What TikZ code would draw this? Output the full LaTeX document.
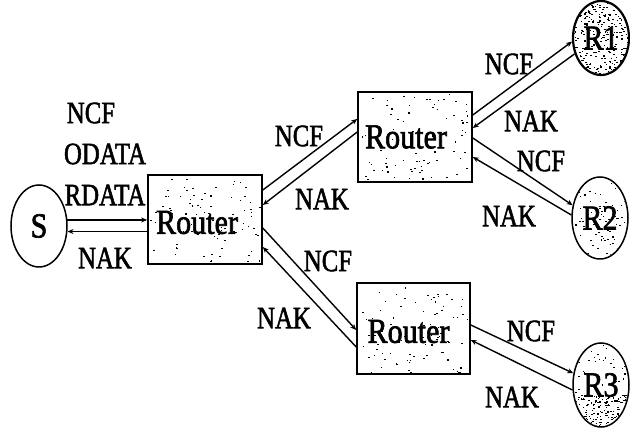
\documentclass[tikz,border=0pt]{standalone}
\usepackage{fontspec}
\usepackage{graphicx}
\setmainfont{Liberation Serif}[FakeBold=2]
\usetikzlibrary{shapes.geometric,arrows.meta}
% narrow type, as in the original drawing
\newcommand\cnd[1]{\scalebox{0.8}[1]{#1}}
\newcommand\cndr[1]{\scalebox{0.86}[1]{#1}}
% random stipple inside a box: x0 y0 x1 y1 count
\newcommand\speckle[5]{%
  \foreach \k in {1,...,#5}{%
    \pgfmathsetmacro\px{#1+rnd*(#3-#1)}%
    \pgfmathsetmacro\py{#2+rnd*(#4-#2)}%
    \fill (\px,\py) rectangle ++(1.6,1.1);
  }}
\begin{document}
\begin{tikzpicture}[x=1pt,y=-1pt,
  lbl/.style={inner sep=0pt, font=\fontsize{31}{31}\selectfont},
  router/.style={draw, line width=1.6pt, minimum width=114pt, minimum height=90pt, inner sep=0pt},
  rtext/.style={inner sep=0pt, font=\fontsize{35}{35}\selectfont},
  host/.style={ellipse, draw, line width=1.5pt, minimum width=56pt, minimum height=82pt, inner sep=0pt, font=\fontsize{35}{35}\selectfont},
  arr/.style={line width=1.4pt, -{Stealth[length=6pt,width=5pt]}}]
\useasboundingbox (0,0) rectangle (630,430);
\pgfmathsetseed{4217}

% stipple of the routers and receivers
\speckle{150}{177}{260}{262}{85}
\speckle{360}{94}{470}{180}{85}
\speckle{359}{285}{468}{372}{85}
\begin{scope}
  \clip (601,38) ellipse [x radius=27, y radius=36];
  \speckle{573}{2}{629}{75}{300}
\end{scope}
\begin{scope}
  \clip (600,218) ellipse [x radius=27, y radius=40];
  \speckle{572}{178}{628}{259}{80}
\end{scope}
\begin{scope}
  \clip (601,385) ellipse [x radius=27, y radius=41];
  \speckle{573}{344}{629}{427}{60}
  \speckle{573}{395}{629}{427}{150}
\end{scope}

% hosts
\node[host] (s) at (39,226) {\cndr{S}};
\node[host, line width=2.2pt, minimum height=74pt] (r1) at (601,38) {\cndr{R1}};
\node[host] (r2) at (600,218) {\cndr{R2}};
\node[host, minimum height=84pt] (r3) at (601,385) {\cndr{R3}};

% routers
\node[router, minimum width=114pt, minimum height=89pt,
  label={[rtext, xshift=-8pt, yshift=-3pt]center:\cndr{Router}}] (ra) at (205,219.5) {};
\node[router, minimum width=114pt, minimum height=90pt,
  label={[rtext, xshift=-9pt]center:\cndr{Router}}] (rb) at (415,137) {};
\node[router, minimum width=113pt, minimum height=91pt,
  label={[rtext, xshift=-5pt, yshift=-3pt]center:\cndr{Router}}] (rc) at (413.5,328.5) {};

% source <-> first router
\draw[arr] (s.12) -- (s.12 -| ra.west);
\draw[arr] (s.-11 -| ra.west) -- (s.-11);

% first router <-> upper router
\draw[arr] ([yshift=29.5pt]ra.east) -- ([yshift=18pt]rb.west);
\draw[arr] ([yshift=5pt]rb.west) -- ([yshift=14.5pt]ra.east);

% first router <-> lower router
\draw[arr] ([yshift=-8.5pt]ra.east) -- ([yshift=-1.5pt]rc.west);
\draw[arr] ([yshift=-18.5pt]rc.west) -- ([yshift=-27.5pt]ra.east);

% upper router <-> R1, R2
\draw[arr] ([yshift=22pt]rb.east) -- (r1.187);
\draw[arr] (r1.211) -- ([yshift=9pt]rb.east);
\draw[arr] ([yshift=-1pt]rb.east) -- (r2.155);
\draw[arr] (r2.174) -- ([yshift=-20pt]rb.east);

% lower router <-> R3
\draw[arr] ([yshift=3.5pt]rc.east) -- (r3.157);
\draw[arr] (r3.190) -- ([yshift=-11.5pt]rc.east);

% message labels
\node[lbl] (l1) at (91,113) {\cnd{NCF}};
\node[lbl] (l2) at (105,154) {\cnd{ODATA}};
\node[lbl] (l3) at (105,195) {\cnd{RDATA}};
\node[lbl] (l4) at (105,258) {\cnd{NAK}};
\node[lbl] (l5) at (299,136) {\cnd{NCF}};
\node[lbl] (l6) at (322,199) {\cnd{NAK}};
\node[lbl] (l7) at (509,64) {\cnd{NCF}};
\node[lbl] (l8) at (531,121) {\cnd{NAK}};
\node[lbl] (l9) at (541,161) {\cnd{NCF}};
\node[lbl] (l10) at (509,216) {\cnd{NAK}};
\node[lbl] (l11) at (328,261) {\cnd{NCF}};
\node[lbl] (l12) at (284,318) {\cnd{NAK}};
\node[lbl] (l13) at (531,331) {\cnd{NCF}};
\node[lbl] (l14) at (512,397) {\cnd{NAK}};
\end{tikzpicture}
\end{document}
